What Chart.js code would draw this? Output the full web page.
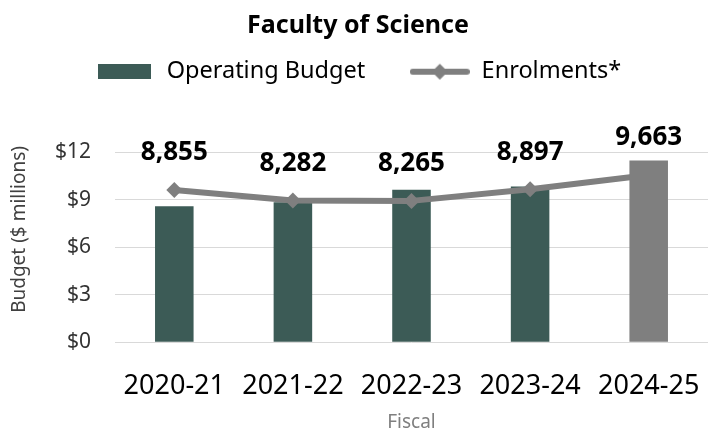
<!DOCTYPE html>
<html>
<head>
<meta charset="utf-8">
<script src="https://cdn.jsdelivr.net/npm/chart.js@4.4.1/dist/chart.umd.min.js"></script>
<style>
 html,body{margin:0;padding:0;background:#fff;overflow:hidden;width:711px;height:434px}
 canvas{display:block}
</style>
</head>
<body>
<canvas id="chart" width="716" height="434"></canvas>
<script>
/* ========= DATA ========= */

const categories=["2020-21","2021-22","2022-23","2023-24","2024-25"]
const budget=[8.6,8.85,9.65,9.85,null]
const budgetProjected=[null,null,null,null,11.5]
const enrolments=[8855,8282,8265,8897,9663]
const budgetTicks=[0,3,6,9,12]

/* ========= COLOURS ========= */

const GREEN="#3c5b56"
const GREY="#7f7f7f"

Chart.defaults.font.family="'Noto Sans', sans-serif"

/* ========= LEGEND ICONS ========= */

function icon(w,h,draw){
 const c=document.createElement("canvas")
 c.width=w;c.height=h
 draw(c.getContext("2d"))
 return c
}

const barIcon=icon(53,15,g=>{g.fillStyle=GREEN;g.fillRect(0,0,53,15)})
const lineIcon=icon(60,18,g=>{
 g.strokeStyle=GREY;g.lineWidth=6;g.lineCap="round"
 g.beginPath();g.moveTo(3,9);g.lineTo(57,9);g.stroke()
 g.fillStyle=GREY
 g.beginPath();g.moveTo(30,1);g.lineTo(38,9);g.lineTo(30,17);g.lineTo(22,9);g.closePath();g.fill()
})

/* ========= LABELS + AXIS TITLE ========= */

const extras={
 id:"extras",
 afterDatasetsDraw(chart){
  const ctx=chart.ctx
  const meta=chart.getDatasetMeta(1)
  ctx.save()
  ctx.font="bold 26px 'Noto Sans'"
  ctx.fillStyle="#000"
  ctx.textAlign="center"
  ctx.textBaseline="middle"
  meta.data.forEach((p,i)=>{
   ctx.fillText(enrolments[i].toLocaleString("en-US"),p.x,p.y-37)
  })
  const a=chart.chartArea
  ctx.translate(20,(a.top+a.bottom)/2-18)
  ctx.rotate(-Math.PI/2)
  ctx.font="19px 'Noto Sans'"
  ctx.fillStyle="#404040"
  ctx.fillText("Budget ($ millions)",0,0)
  ctx.restore()
 }
}

/* ========= CHART ========= */

new Chart(document.getElementById("chart"),{
 type:"bar",
 data:{
  labels:categories,
  datasets:[
   {label:"Operating Budget",data:budget,backgroundColor:GREEN,order:2,
    grouped:false,barPercentage:0.325,categoryPercentage:1,yAxisID:"y"},
   {label:"Enrolments*",type:"line",data:enrolments,yAxisID:"y1",order:1,
    borderColor:GREY,backgroundColor:GREY,borderWidth:6,borderJoinStyle:"round",
    pointStyle:"rectRot",pointRadius:8,pointBorderWidth:0,pointBackgroundColor:GREY},
   {label:"Projected",data:budgetProjected,backgroundColor:GREY,order:0,
    grouped:false,barPercentage:0.325,categoryPercentage:1,yAxisID:"y"}
  ]
 },
 options:{
  responsive:false,
  animation:false,
  devicePixelRatio:1,
  layout:{padding:0},
  plugins:{
   tooltip:{enabled:false},
   title:{display:true,text:"Faculty of Science",color:"#000",
    font:{size:25,weight:"bold"},padding:{top:11,bottom:4}},
   subtitle:{display:true,text:"",weight:500,font:{size:10},padding:{top:0,bottom:47}},
   legend:{
    position:"top",
    labels:{
     usePointStyle:true,pointStyleWidth:60,padding:15,color:"#262626",
     font:{size:23.5},
     generateLabels:chart=>[
      {text:chart.data.datasets[0].label+"\u2003 ",pointStyle:barIcon,datasetIndex:0,
       lineWidth:0,strokeStyle:"transparent",fillStyle:GREEN,hidden:false},
      {text:chart.data.datasets[1].label,pointStyle:lineIcon,datasetIndex:1,
       lineWidth:0,strokeStyle:"transparent",fillStyle:GREY,hidden:false}
     ]
    }
   }
  },
  scales:{
   x:{
    afterFit:s=>{s.paddingLeft=0;s.paddingRight=0},
    grid:{display:false,drawTicks:false},
    border:{display:false},
    ticks:{color:"#000",font:{size:27},padding:28,maxRotation:0},
    title:{display:true,text:"Fiscal",color:GREY,font:{size:19},padding:{top:-19.5,bottom:0}}
   },
   y:{
    min:0,max:12,
    afterFit:s=>{s.width=115},
    afterBuildTicks:s=>{s.ticks=budgetTicks.map(v=>({value:v}))},
    grid:{color:"#d9d9d9",lineWidth:1,drawTicks:false},
    border:{display:false},
    ticks:{color:"#333",font:{size:21},padding:24,callback:v=>"$"+v}
   },
   y1:{
    display:false,min:650,max:10870,position:"right",
    afterFit:s=>{s.width=0},
    grid:{display:false,drawTicks:false}
   }
  }
 },
 plugins:[extras]
})
</script>
</body>
</html>
